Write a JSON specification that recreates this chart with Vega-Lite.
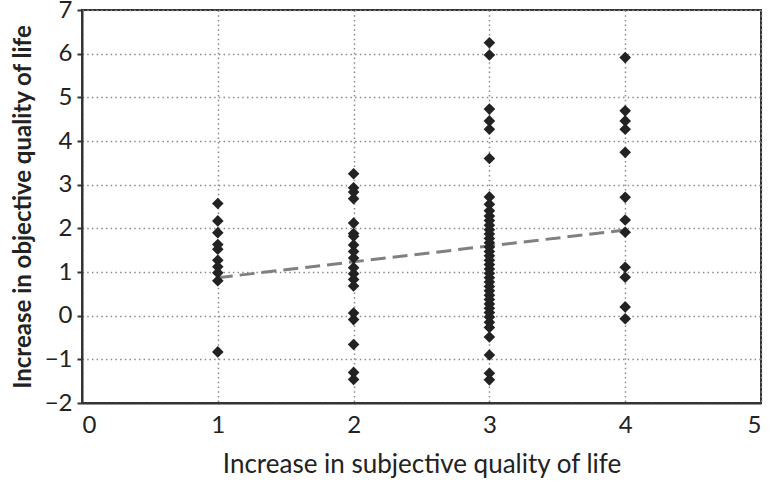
{
  "$schema": "https://vega.github.io/schema/vega-lite/v6.json",
  "width": 679,
  "height": 393,
  "autosize": {"type": "none"},
  "padding": {"left": 82, "top": 10, "right": 9, "bottom": 79},
  "background": "white",
  "config": {
    "font": "Lato",
    "view": {"stroke": "#333333", "strokeWidth": 2},
    "axis": {
      "labelFont": "Lato", "titleFont": "Lato",
      "labelColor": "#222222", "titleColor": "#222222",
      "domainColor": "#333333", "domainWidth": 2,
      "tickColor": "#333333", "tickWidth": 2,
      "gridColor": "#8a8a8a", "gridDash": [1.5, 3.2], "gridWidth": 1.5,
      "labelFontSize": 24
    }
  },
  "datasets": {
    "pts": [
      {"s": 1, "o": 2.57}, {"s": 1, "o": 2.17}, {"s": 1, "o": 1.9}, {"s": 1, "o": 1.63}, {"s": 1, "o": 1.52},
      {"s": 1, "o": 1.27}, {"s": 1, "o": 1.12}, {"s": 1, "o": 0.98}, {"s": 1, "o": 0.8}, {"s": 1, "o": -0.83},
      {"s": 2, "o": 3.25}, {"s": 2, "o": 2.93}, {"s": 2, "o": 2.83}, {"s": 2, "o": 2.68}, {"s": 2, "o": 2.12},
      {"s": 2, "o": 1.88}, {"s": 2, "o": 1.82}, {"s": 2, "o": 1.62}, {"s": 2, "o": 1.47}, {"s": 2, "o": 1.32},
      {"s": 2, "o": 1.1}, {"s": 2, "o": 0.96}, {"s": 2, "o": 0.83}, {"s": 2, "o": 0.68}, {"s": 2, "o": 0.06},
      {"s": 2, "o": -0.09}, {"s": 2, "o": -0.66}, {"s": 2, "o": -1.3}, {"s": 2, "o": -1.46},
      {"s": 3, "o": 6.25}, {"s": 3, "o": 5.97}, {"s": 3, "o": 4.73}, {"s": 3, "o": 4.46}, {"s": 3, "o": 4.27},
      {"s": 3, "o": 3.6}, {"s": 3, "o": 2.72}, {"s": 3, "o": 2.55}, {"s": 3, "o": 2.4}, {"s": 3, "o": 2.28},
      {"s": 3, "o": 2.18}, {"s": 3, "o": 2.07}, {"s": 3, "o": 1.97}, {"s": 3, "o": 1.87}, {"s": 3, "o": 1.77},
      {"s": 3, "o": 1.67}, {"s": 3, "o": 1.57}, {"s": 3, "o": 1.47}, {"s": 3, "o": 1.37}, {"s": 3, "o": 1.27},
      {"s": 3, "o": 1.17}, {"s": 3, "o": 1.07}, {"s": 3, "o": 0.97}, {"s": 3, "o": 0.87}, {"s": 3, "o": 0.77},
      {"s": 3, "o": 0.67}, {"s": 3, "o": 0.57}, {"s": 3, "o": 0.47}, {"s": 3, "o": 0.37}, {"s": 3, "o": 0.27},
      {"s": 3, "o": 0.17}, {"s": 3, "o": 0.07}, {"s": 3, "o": -0.03}, {"s": 3, "o": -0.15}, {"s": 3, "o": -0.27},
      {"s": 3, "o": -0.49}, {"s": 3, "o": -0.9}, {"s": 3, "o": -1.32}, {"s": 3, "o": -1.47},
      {"s": 4, "o": 5.91}, {"s": 4, "o": 4.69}, {"s": 4, "o": 4.46}, {"s": 4, "o": 4.27}, {"s": 4, "o": 3.74},
      {"s": 4, "o": 2.71}, {"s": 4, "o": 2.19}, {"s": 4, "o": 1.91}, {"s": 4, "o": 1.11}, {"s": 4, "o": 0.88},
      {"s": 4, "o": 0.2}, {"s": 4, "o": -0.07}
    ],
    "trend": [{"s": 1, "o": 0.87}, {"s": 4, "o": 1.96}]
  },
  "layer": [
    {
      "data": {"name": "trend"},
      "mark": {"type": "line", "color": "#808080", "strokeWidth": 3, "strokeDash": [15, 7]},
      "encoding": {
        "x": {"field": "s", "type": "quantitative"},
        "y": {"field": "o", "type": "quantitative"}
      }
    },
    {
      "data": {"name": "pts"},
      "mark": {"type": "point", "shape": "diamond", "filled": true, "color": "#222222", "opacity": 1, "size": 135},
      "encoding": {
        "x": {
          "field": "s", "type": "quantitative",
          "scale": {"domain": [0, 5], "nice": false},
          "axis": {
            "values": [0, 1, 2, 3, 4, 5], "format": "d", "ticks": false,
            "labelPadding": 10, "title": "Increase in subjective quality of life",
            "titleFontSize": 26, "titleFontWeight": "normal", "titlePadding": 14
          }
        },
        "y": {
          "field": "o", "type": "quantitative",
          "scale": {"domain": [-2, 7], "nice": false},
          "axis": {
            "values": [-2, -1, 0, 1, 2, 3, 4, 5, 6, 7], "format": "d", "tickSize": 5,
            "labelPadding": 5, "title": "Increase in objective quality of life",
            "titleFontSize": 24, "titleFontWeight": "bold", "titlePadding": 9
          }
        }
      }
    }
  ]
}
